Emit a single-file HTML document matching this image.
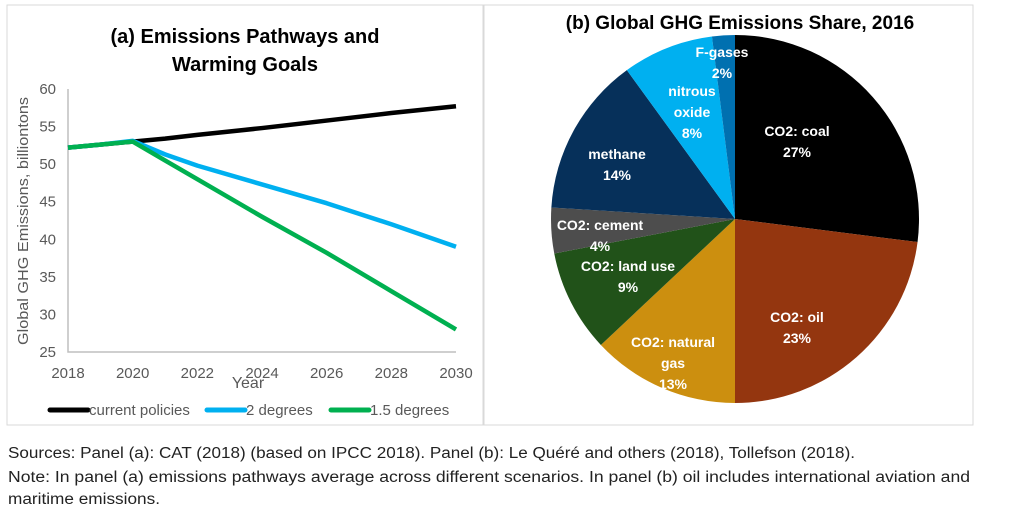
<!DOCTYPE html>
<html><head><meta charset="utf-8"><style>
body{margin:0;background:#fff;width:1024px;height:508px;overflow:hidden;font-family:"Liberation Sans",sans-serif}
svg{position:absolute;left:0;top:0}
</style></head><body>
<svg width="1024" height="508">
<rect x="7" y="5" width="476" height="420" fill="#fff" stroke="#d9d9d9"/>
<rect x="484" y="5" width="489" height="420" fill="#fff" stroke="#d9d9d9"/>
<text x="245" y="43" text-anchor="middle" font-size="20" font-weight="bold">(a) Emissions Pathways and</text>
<text x="245" y="71" text-anchor="middle" font-size="20" font-weight="bold">Warming Goals</text>
<text x="740" y="29" text-anchor="middle" font-size="19" font-weight="bold">(b) Global GHG Emissions Share, 2016</text>
<g id="chartA"></g><g id="pie"></g>
<text transform="translate(28,221) rotate(-90)" text-anchor="middle" font-size="15" fill="#595959" textLength="248" lengthAdjust="spacingAndGlyphs">Global GHG Emissions, billiontons</text>
<text x="248" y="388" text-anchor="middle" font-size="16" fill="#595959">Year</text>
<text x="8" y="458" font-size="15.5" fill="#222" textLength="847" lengthAdjust="spacingAndGlyphs">Sources: Panel (a): CAT (2018) (based on IPCC 2018). Panel (b): Le Quéré and others (2018), Tollefson (2018).</text>
<text x="8" y="482" font-size="15.5" fill="#222" textLength="962" lengthAdjust="spacingAndGlyphs">Note: In panel (a) emissions pathways average across different scenarios. In panel (b) oil includes international aviation and</text>
<text x="8" y="504" font-size="15.5" fill="#222" textLength="152" lengthAdjust="spacingAndGlyphs">maritime emissions.</text>
</svg>
<script>
const years=[2018,2019,2020,2021,2022,2024,2026,2028,2030];
const currentPolicies=[52.2,52.6,53,53.4,53.9,54.8,55.8,56.8,57.7];
const twoDegrees=[52.2,52.6,53.1,51.3,49.8,47.3,44.8,42,39];
const onePointFive=[52.2,52.6,53,50.5,48,43,38.2,33.1,28];
const xTicks=[2018,2020,2022,2024,2026,2028,2030];
const yTicks=[25,30,35,40,45,50,55,60];
const NS="http://www.w3.org/2000/svg";
function mk(t,a,p){const e=document.createElementNS(NS,t);for(const k in a)e.setAttribute(k,a[k]);p.appendChild(e);return e;}
const X=v=>68+(v-2018)/12*388, Y=v=>352-(v-25)/35*263;
const g=document.getElementById('chartA');
let ax=mk('path',{d:`M${X(2018)} ${Y(60)}V${Y(25)}H${X(2030)}`,stroke:'#bfbfbf','stroke-width':1.5,fill:'none'},g);


yTicks.forEach(v=>{const t=mk('text',{x:56,y:Y(v)+5,'text-anchor':'end','font-size':15,fill:'#595959'},g);t.textContent=v;

});
xTicks.forEach(v=>{const t=mk('text',{x:X(v),y:378,'text-anchor':'middle','font-size':15,fill:'#595959'},g);t.textContent=v;

});
const series=[[currentPolicies,'#000','current-policies-line'],[twoDegrees,'#00b0f0','two-degrees-line'],[onePointFive,'#00b050','one-point-five-line']];
series.forEach(([d,c,n])=>{const p=mk('polyline',{points:d.map((v,i)=>X(years[i])+','+Y(v)).join(' '),stroke:c,'stroke-width':4.5,fill:'none','stroke-linejoin':'round'},g);

});
const leg=[[50,'#000','current policies'],[207,'#00b0f0','2 degrees'],[331,'#00b050','1.5 degrees']];
leg.forEach(([x,c,l])=>{const li=mk('line',{x1:x,y1:410,x2:x+38,y2:410,stroke:c,'stroke-width':5,'stroke-linecap':'round'},g);


const t=mk('text',{x:x+39,y:415,'font-size':15,fill:'#595959'},g);t.textContent=l;

});

const pieLabels=[['CO2: coal','27%'],['CO2: oil','23%'],['CO2: natural','gas','13%'],['CO2: land use','9%'],['CO2: cement','4%'],['methane','14%'],['nitrous','oxide','8%'],['F-gases','2%']];
const pieValues=[27,23,13,9,4,14,8,2];
const pieColors=['#000000','#94360f','#cc8f0f','#215219','#4d4d4d','#06305a','#00b0f0','#0070b0'];
const pg=document.getElementById('pie');const cx=735,cy=219,r=184;
const tot=pieValues.reduce((a,b)=>a+b,0);let acc=0;
const lpos=[[797,136],[797,322],[673,347],[628,271],[600,230],[617,159],[692,96],[722,57]];
pieValues.forEach((v,i)=>{const a0=acc/tot*2*Math.PI;acc+=v;const a1=acc/tot*2*Math.PI;
const p=(a)=>[cx+r*Math.sin(a),cy-r*Math.cos(a)];const [x0,y0]=p(a0),[x1,y1]=p(a1);
const s=mk('path',{d:`M${cx} ${cy}L${x0} ${y0}A${r} ${r} 0 ${a1-a0>Math.PI?1:0} 1 ${x1} ${y1}Z`,fill:pieColors[i]},pg);

});
pieValues.forEach((v,i)=>{const [lx,ly]=lpos[i];const lines=pieLabels[i];
const t=mk('text',{x:lx,y:ly,'text-anchor':'middle','font-size':14,'font-weight':'bold',fill:'#fff'},pg);
lines.forEach((s,j)=>{const ts=mk('tspan',{x:lx,dy:j?21:0},t);ts.textContent=s;});

});
</script>
</body></html>
